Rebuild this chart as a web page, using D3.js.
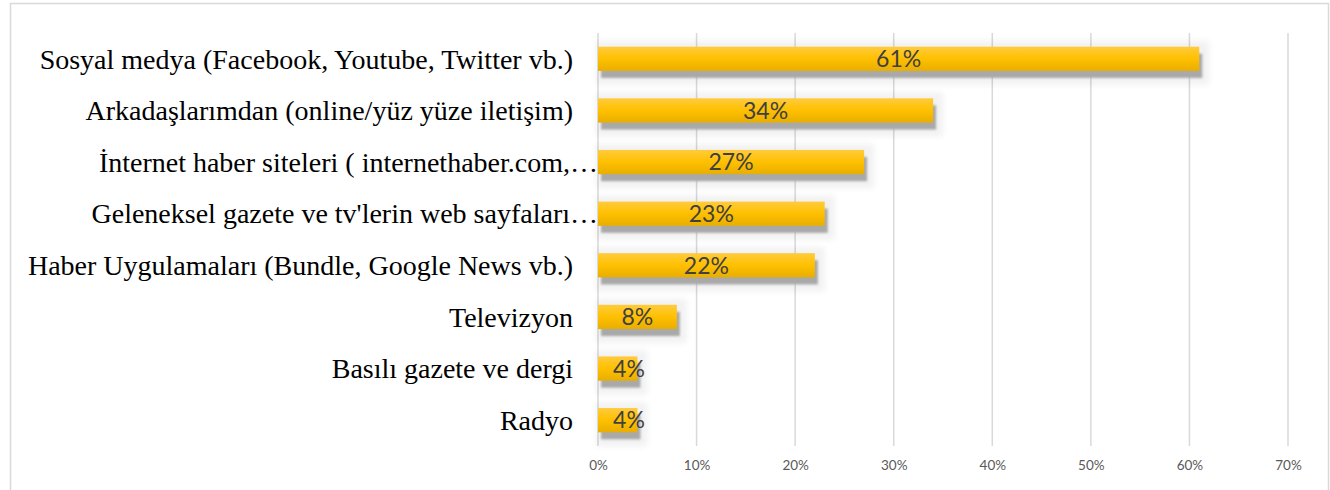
<!DOCTYPE html>
<html>
<head>
<meta charset="utf-8">
<script src="https://cdn.jsdelivr.net/npm/d3@7"></script>
<style>
  body { margin: 0; background: #fff; }
  svg { display: block; }
</style>
</head>
<body>
<script>
/* Chart data */
var categories = [
  "Sosyal medya (Facebook, Youtube, Twitter vb.)",
  "Arkadaşlarımdan (online/yüz yüze iletişim)",
  "İnternet haber siteleri ( internethaber.com,…",
  "Geleneksel gazete ve tv'lerin web sayfaları…",
  "Haber Uygulamaları (Bundle, Google News vb.)",
  "Televizyon",
  "Basılı gazete ve dergi",
  "Radyo"
];
var values = [61, 34, 27, 23, 22, 8, 4, 4];
var truncated = [false, false, true, true, false, false, false, false];
var tickValues = [0, 10, 20, 30, 40, 50, 60, 70];

var data = categories.map(function(c, i) {
  return {category: c, value: values[i], cut: truncated[i]};
});

var width = 1330, height = 490;
var plot = {left: 598, right: 1288, top: 33, bottom: 446};

var svg = d3.select("body").append("svg")
    .attr("width", width)
    .attr("height", height);

/* outer chart frame */
svg.append("rect")
    .attr("x", 10.5).attr("y", 3.5)
    .attr("width", 1318).attr("height", 500)
    .attr("fill", "none")
    .attr("stroke", "#d9d9d9")
    .attr("stroke-width", 1.5);

var defs = svg.append("defs");

var grad = defs.append("linearGradient")
    .attr("id", "barFill")
    .attr("x1", 0).attr("y1", 0).attr("x2", 0).attr("y2", 1);
grad.append("stop").attr("offset", "0%").attr("stop-color", "#ffcb3d");
grad.append("stop").attr("offset", "50%").attr("stop-color", "#ffc000");
grad.append("stop").attr("offset", "100%").attr("stop-color", "#e8ae00");

defs.append("filter").attr("id", "blurS")
    .attr("x", "-10%").attr("y", "-50%").attr("width", "120%").attr("height", "200%")
  .append("feGaussianBlur").attr("stdDeviation", 0.8);
defs.append("filter").attr("id", "blurL")
    .attr("x", "-10%").attr("y", "-50%").attr("width", "120%").attr("height", "200%")
  .append("feGaussianBlur").attr("stdDeviation", 3);

var x = d3.scaleLinear()
    .domain([0, 70])
    .range([plot.left, plot.right]);

var y = d3.scaleBand()
    .domain(categories)
    .range([plot.top, plot.bottom])
    .paddingInner(0.53)
    .paddingOuter(0.265);

/* vertical gridlines */
svg.append("g")
    .selectAll("line")
    .data(tickValues)
  .enter().append("line")
    .attr("x1", function(d) { return x(d); })
    .attr("x2", function(d) { return x(d); })
    .attr("y1", plot.top)
    .attr("y2", plot.bottom)
    .attr("stroke", "#d9d9d9")
    .attr("stroke-width", 1.5);

/* x axis labels */
var xAxis = d3.axisBottom(x)
    .tickValues(tickValues)
    .tickSize(0)
    .tickPadding(0)
    .tickFormat(function(d) { return d + "%"; });

svg.append("g")
    .attr("transform", "translate(0," + (plot.bottom + 24) + ")")
    .call(xAxis)
    .call(function(g) { g.select(".domain").remove(); })
    .selectAll("text")
    .attr("dy", 0)
    .attr("fill", "#595959")
    .style("font-family", "Lato, 'Open Sans', sans-serif")
    .style("font-size", "13.5px");

var bars = svg.append("g").selectAll(".bar")
    .data(data)
  .enter().append("g")
    .attr("class", "bar");

/* soft halo and drop shadow */
bars.append("rect")
    .attr("x", plot.left - 2)
    .attr("y", function(d) { return y(d.category) - 6; })
    .attr("width", function(d) { return x(d.value) - plot.left + 12; })
    .attr("height", y.bandwidth() + 20)
    .attr("fill", "#000")
    .attr("opacity", 0.05)
    .attr("filter", "url(#blurL)");

bars.append("rect")
    .attr("x", plot.left + 3)
    .attr("y", function(d) { return y(d.category) + 7; })
    .attr("width", function(d) { return x(d.value) - plot.left; })
    .attr("height", y.bandwidth())
    .attr("fill", "#a9a9a9")
    .attr("filter", "url(#blurS)");

bars.append("rect")
    .attr("x", plot.left)
    .attr("y", function(d) { return y(d.category); })
    .attr("width", function(d) { return x(d.value) - plot.left; })
    .attr("height", y.bandwidth())
    .attr("fill", "url(#barFill)");

/* value labels, nudged right when the bar is too short to hold them */
bars.append("text")
    .attr("x", function(d) {
      return Math.max((plot.left + x(d.value)) / 2, plot.left + 31);
    })
    .attr("y", function(d) { return y(d.category) + y.bandwidth() / 2; })
    .attr("dy", "0.36em")
    .attr("text-anchor", "middle")
    .attr("fill", "#404040")
    .style("font-family", "Lato, 'Open Sans', sans-serif")
    .style("font-size", "23px")
    .text(function(d) { return d.value + "%"; });

/* category labels */
svg.append("g").selectAll("text")
    .data(data)
  .enter().append("text")
    .attr("x", function(d) { return d.cut ? plot.left : plot.left - 25; })
    .attr("y", function(d) { return y(d.category) + y.bandwidth() / 2; })
    .attr("dy", "0.35em")
    .attr("text-anchor", "end")
    .attr("fill", "#000")
    .style("font-family", "'Liberation Serif', 'Times New Roman', serif")
    .style("font-size", "28px")
    .text(function(d) { return d.category; });
</script>
</body>
</html>
